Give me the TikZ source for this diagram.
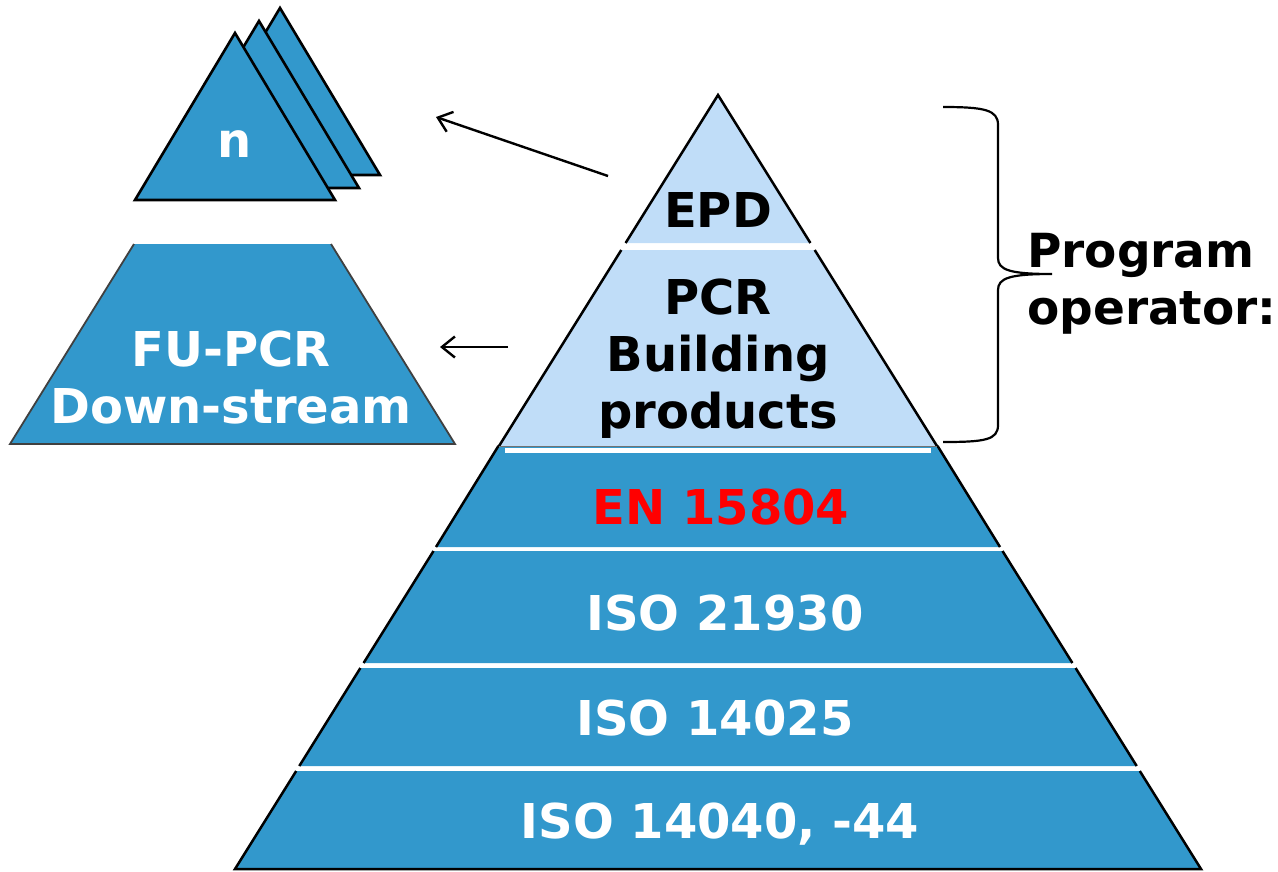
\documentclass[tikz,border=0pt]{standalone}
\usepackage{fontspec}
\setmainfont{DejaVu Sans}
\usetikzlibrary{arrows.meta}
\definecolor{pyblue}{RGB}{50,152,204}
\definecolor{pylight}{RGB}{192,221,248}
\tikzset{
  band/.style={fill=pyblue},
  lband/.style={fill=pylight},
  edge/.style={draw=black,line width=2.5pt},
  lbl/.style={inner sep=0pt,font=\fontsize{48}{57}\selectfont\bfseries,align=center},
  wlbl/.style={lbl,text=white},
  arr/.style={line width=2.4pt,-{Straight Barb[length=13pt,width=21pt,line width=2.4pt]}},
}
\begin{document}
\begin{tikzpicture}[x=1pt,y=-1pt]
\useasboundingbox (0,0) rectangle (1278,871);
% ---- small stacked triangles ----
\foreach \dx/\dy in {45/-25,24/-12,0/0}{
  \filldraw[fill=pyblue,draw=black,line width=2.6pt,line join=miter]
    (235+\dx,33+\dy) -- (335+\dx,200+\dy) -- (135+\dx,200+\dy) -- cycle;
}
\node[wlbl,anchor=base] (n) at (235,157) {n};
% ---- FU-PCR trapezoid ----
\fill[band] (134,244) -- (331,244) -- (455,444) -- (10,444) -- cycle;
\draw[line width=1.8pt,black!75] (134,244) -- (10,444) -- (455,444) -- (331,244);
\node[wlbl] (fu) at (231,378) {FU-PCR\\Down-stream};
% ---- main pyramid ----
% EPD
\fill[lband] (718,95) -- (810.4,243) -- (625.6,243) -- cycle;
\draw[edge,line join=miter] (625.6,243) -- (718,95) -- (810.4,243);
% PCR
\fill[lband] (621.3,250) -- (814.7,250) -- (937.6,447) -- (498.4,447) -- cycle;
\draw[edge] (621.3,250) -- (498.4,447);
\draw[edge] (814.7,250) -- (937.6,447);
% EN 15804
\fill[band] (498.4,447) -- (937.6,447) -- (1000,547) -- (436,547) -- cycle;
\draw[edge] (498.4,446) -- (436,547);
\draw[edge] (937.6,446) -- (1000,547);
\draw[line width=1pt,black!55] (499,446) -- (937,446);
\draw[white,line width=4.5pt] (505,450.5) -- (931,450.5);
% ISO 21930
\fill[band] (433.5,551) -- (1002.5,551) -- (1072.4,663) -- (363.6,663) -- cycle;
\draw[edge] (433.5,551) -- (363.6,663);
\draw[edge] (1002.5,551) -- (1072.4,663);
% ISO 14025
\fill[band] (360.4,668) -- (1075.6,668) -- (1136.7,766) -- (299.3,766) -- cycle;
\draw[edge] (360.4,668) -- (299.3,766);
\draw[edge] (1075.6,668) -- (1136.7,766);
% ISO 14040
\fill[band] (296.2,771) -- (1139.8,771) -- (1201,869) -- (235,869) -- cycle;
\draw[edge,line join=miter] (296.2,771) -- (235,869) -- (1201,869) -- (1139.8,771);
% labels
\node[lbl,anchor=base] (epd) at (718,227) {EPD};
\node[lbl] (pcr) at (718,359) {PCR\\Building\\products};
\node[lbl,anchor=base,text=red] (en) at (721,524) {EN 15804};
\node[wlbl,anchor=base] (iso1) at (725,630) {ISO 21930};
\node[wlbl,anchor=base] (iso2) at (715,735) {ISO 14025};
\node[wlbl,anchor=base] (iso3) at (720,838) {ISO 14040, -44};
% ---- brace ----
\draw[line width=2.2pt] (943,107) .. controls (985,107) and (998,110) .. (998,125)
  -- (998,258) .. controls (998,270) and (1010,274) .. (1052,274)
  .. controls (1010,274) and (998,278) .. (998,290)
  -- (998,425) .. controls (998,440) and (985,442) .. (943,442);
\node[lbl,align=left,anchor=west,font=\fontsize{47}{57}\selectfont\bfseries] (prog) at (1027,284) {Program\\operator:};
% ---- arrows ----
\coordinate (a1s) at (608,176);
\coordinate (a1e) at (436,117);
\coordinate (a2s) at (508,347);
\coordinate (a2e) at (440,347);
\draw[arr] (a1s) -- (a1e);
\draw[arr] (a2s) -- (a2e);
\end{tikzpicture}
\end{document}
